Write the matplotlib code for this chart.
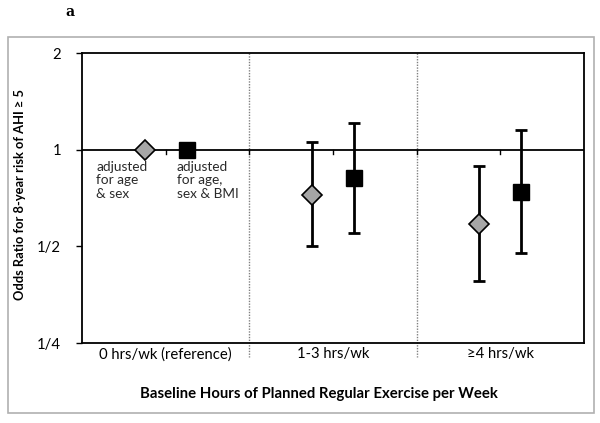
import matplotlib
matplotlib.use('Agg')
import matplotlib.pyplot as plt
from matplotlib.patches import Rectangle
import numpy as np

# data
categories = ['0 hrs/wk (reference)', '1-3 hrs/wk', '\u22654 hrs/wk']
x_age_sex = [0.75, 2.75, 4.75]
or_age_sex = [1.0, 0.72, 0.585]
lo_age_sex = [1.0, 0.50, 0.39]
hi_age_sex = [1.0, 1.06, 0.89]
x_bmi = [1.25, 3.25, 5.25]
or_bmi = [1.0, 0.815, 0.74]
lo_bmi = [1.0, 0.55, 0.475]
hi_bmi = [1.0, 1.21, 1.15]
ytick_vals = [0.25, 0.5, 1, 2]
ytick_labels = ['1/4', '1/2', '1', '2']

plt.rcParams['font.family'] = ['Lato', 'DejaVu Sans']

fig = plt.figure(figsize=(6, 4.23), dpi=100)
fig.patches.append(Rectangle((8/600, 10/423), 586/600, 376/423, transform=fig.transFigure,
                             fill=False, edgecolor='#b0b0b0', linewidth=1.2))
fig.text(70/600, 1 - 12/423, 'a', family='DejaVu Serif', fontweight='bold', fontsize=10,
         ha='center', va='center')

ax = fig.add_axes([82/600, 1 - 343/423, 502/600, 290/423])
ax.set_yscale('log', base=2)
ax.set_ylim(0.25, 2)
ax.set_xlim(0, 6)

# horizontal axis line at OR = 1 with small ticks
ax.axhline(1, color='black', linewidth=1.3, zorder=2)
for k in range(1, 6):
    ax.plot([k, k], [1, 2 ** (-4 / 97)], color='black', linewidth=1, zorder=2)

# category dividers
for d in [2, 4]:
    ax.plot([d, d], [2, 2 ** (-2 - 14 / 97)], color='#808080', linewidth=1, linestyle=(0, (1, 1)),
            clip_on=False, zorder=1)

ax.errorbar(x_age_sex, or_age_sex,
            yerr=[np.array(or_age_sex) - np.array(lo_age_sex), np.array(hi_age_sex) - np.array(or_age_sex)],
            fmt='none', ecolor='black', elinewidth=2, capsize=4, capthick=2, zorder=3)
ax.errorbar(x_bmi, or_bmi,
            yerr=[np.array(or_bmi) - np.array(lo_bmi), np.array(hi_bmi) - np.array(or_bmi)],
            fmt='none', ecolor='black', elinewidth=2, capsize=4, capthick=2, zorder=3)
ax.plot(x_age_sex, or_age_sex, linestyle='none', marker='D', markersize=10,
        markerfacecolor='#a6a6a6', markeredgecolor='black', markeredgewidth=1.2, zorder=4)
ax.plot(x_bmi, or_bmi, linestyle='none', marker='s', markersize=11,
        markerfacecolor='black', markeredgecolor='black', zorder=4)

ax.text(0.17, 2 ** (-11 / 97), 'adjusted\nfor age\n& sex', fontsize=9.8, va='top', ha='left',
        linespacing=1.15, color='#2a2a2a')
ax.text(1.13, 2 ** (-11 / 97), 'adjusted\nfor age,\nsex & BMI', fontsize=9.8, va='top', ha='left',
        linespacing=1.15, color='#2a2a2a')

ax.set_yticks(ytick_vals)
ax.set_yticklabels(ytick_labels, fontsize=10.7)
ax.yaxis.set_minor_locator(matplotlib.ticker.NullLocator())
ax.tick_params(axis='y', length=4, width=1, direction='out', pad=11)
ax.set_xticks([1, 3, 5])
ax.set_xticklabels(categories, fontsize=10.7)
ax.tick_params(axis='x', length=0, pad=3)

for s in ax.spines.values():
    s.set_linewidth(1.3)
    s.set_color('black')

ax.set_ylabel('Odds Ratio for 8-year risk of AHI \u2265 5', fontsize=9.3, fontweight='bold')
ax.yaxis.set_label_coords(-56 / 502, 148 / 290)
ax.set_xlabel('Baseline Hours of Planned Regular Exercise per Week', fontsize=10.7,
              fontweight='bold')
ax.xaxis.set_label_coords(237 / 502, -44 / 290)

fig.savefig('out.png', dpi=100)
